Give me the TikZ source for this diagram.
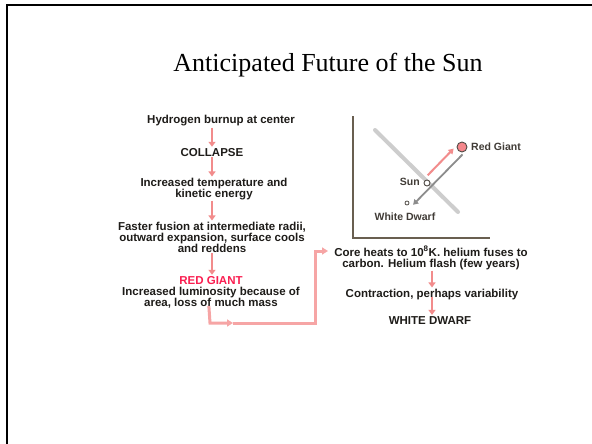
\documentclass[tikz,border=0pt]{standalone}
\usepackage{fontspec}
\setmainfont{Liberation Serif}
\newfontfamily\flowfont{Liberation Sans}
\usetikzlibrary{arrows.meta}
\definecolor{flowpink}{RGB}{242,140,140}
\definecolor{connpink}{RGB}{246,165,165}
\definecolor{giantred}{RGB}{250,30,80}
\definecolor{flowtext}{RGB}{30,28,25}
\definecolor{chartlbl}{RGB}{65,60,55}
\definecolor{axiscol}{RGB}{105,95,80}
\definecolor{mscol}{RGB}{205,205,205}
\definecolor{wdarrow}{RGB}{140,140,140}
\definecolor{rgfill}{RGB}{245,135,140}
\definecolor{dotedge}{RGB}{80,75,70}
\begin{document}
\begin{tikzpicture}[x=1pt,y=-1pt,
  flow/.style={font=\flowfont\bfseries\fontsize{11.5}{11}\selectfont, text=flowtext, align=center, inner sep=0pt, anchor=base},
  chartlabel/.style={font=\flowfont\bfseries\fontsize{10.5}{11}\selectfont, text=chartlbl, inner sep=0pt},
  farrow/.style={draw=flowpink, line width=2.5pt, -{Triangle[width=7pt,length=5pt]}, shorten <=1pt, shorten >=1pt},
  conn/.style={draw=connpink, line width=3pt},
  dot/.style={circle, draw=dotedge, line width=0.9pt, inner sep=0pt}]
\useasboundingbox (0,0) rectangle (592,444);
\fill[white] (0,0) rectangle (592,444);
% slide frame
\draw[line width=2pt] (7,444) -- (7,5) -- (592,5);
% title
\node[font=\fontsize{26}{30}\selectfont, anchor=base, inner sep=0pt] (title) at (328,71) {Anticipated Future of the Sun};
% left flow (base = baseline of last line)
\node[flow] (n1) at (221,124) {Hydrogen burnup at center};
\node[flow] (n2) at (212,156) {COLLAPSE};
\node[flow] (n3) at (214,197) {Increased temperature and\\kinetic energy};
\node[flow] (n4) at (212,252) {Faster fusion at intermediate radii,\\outward expansion, surface cools\\and reddens};
\node[flow] (n5) at (211,306) {\textcolor{giantred}{RED GIANT}\\Increased luminosity because of\\area, loss of much mass};
\draw[farrow] (n1.south -| n2.north) -- (n2.north);
\draw[farrow] (n2.south) -- (n3.north -| n2.south);
\draw[farrow] (n3.south -| n2.south) -- (n4.north -| n2.south);
\draw[farrow] (n4.south -| n2.south) -- (n5.north -| n2.south);
% right flow
\node[flow] (m1) at (431,267) {Core heats to 10\textsuperscript{8}K. helium fuses to\\carbon. Helium flash (few years)};
\node[flow] (m2) at (432,297) {Contraction, perhaps variability};
\node[flow] (m3) at (430,324) {WHITE DWARF};
\draw[farrow] (m1.south -| m2.north) -- (m2.north);
\draw[farrow, shorten <=-3pt] (m2.south) -- (m3.north -| m2.south);
% connector from red giant to core heats
\coordinate (c1) at (210,323);
\coordinate (cm) at (233,323);
\coordinate (c2) at (315,323);
\coordinate (cin) at (328,251);
\draw[conn, -{Triangle[width=7pt,length=6pt]}, shorten <=-2pt] ([xshift=-1pt]n5.south -| c1) -- (c1) -- (cm);
\draw[conn, -{Triangle[width=7pt,length=6pt]}] (cm) -- (c2) |- (cin);
% HR diagram
\draw[axiscol, line width=1.6pt] (353,116) -- (353,238) -- (490,238);
\draw[mscol, line width=4pt, line cap=round] (375,130) -- (458,212);
\node[dot, fill=rgfill, minimum size=10pt] (rg) at (462,147) {};
\node[dot, fill=white, minimum size=6pt] (sun) at (427,183) {};
\node[dot, fill=white, minimum size=4pt, line width=0.8pt] (wd) at (407,203) {};
\draw[flowpink, line width=2pt, -{Triangle[width=6pt,length=5pt]}, shorten <=6pt, shorten >=7pt]
  ([shift={(-3.5,-3.4)}]sun.center) -- ([shift={(-3.5,-3.4)}]rg.center);
\draw[wdarrow, line width=1.8pt, -{Triangle[width=6pt,length=5pt]}, shorten <=5pt, shorten >=3pt]
  ([shift={(4,3.9)}]rg.center) -- ([shift={(4,3.9)}]wd.center);
\node[chartlabel, anchor=west] (rgl) at (471,147) {Red Giant};
\node[chartlabel, anchor=east] (sunl) at (420,182) {Sun};
\node[chartlabel] (wdl) at (405,217) {White Dwarf};
\end{tikzpicture}
\end{document}
